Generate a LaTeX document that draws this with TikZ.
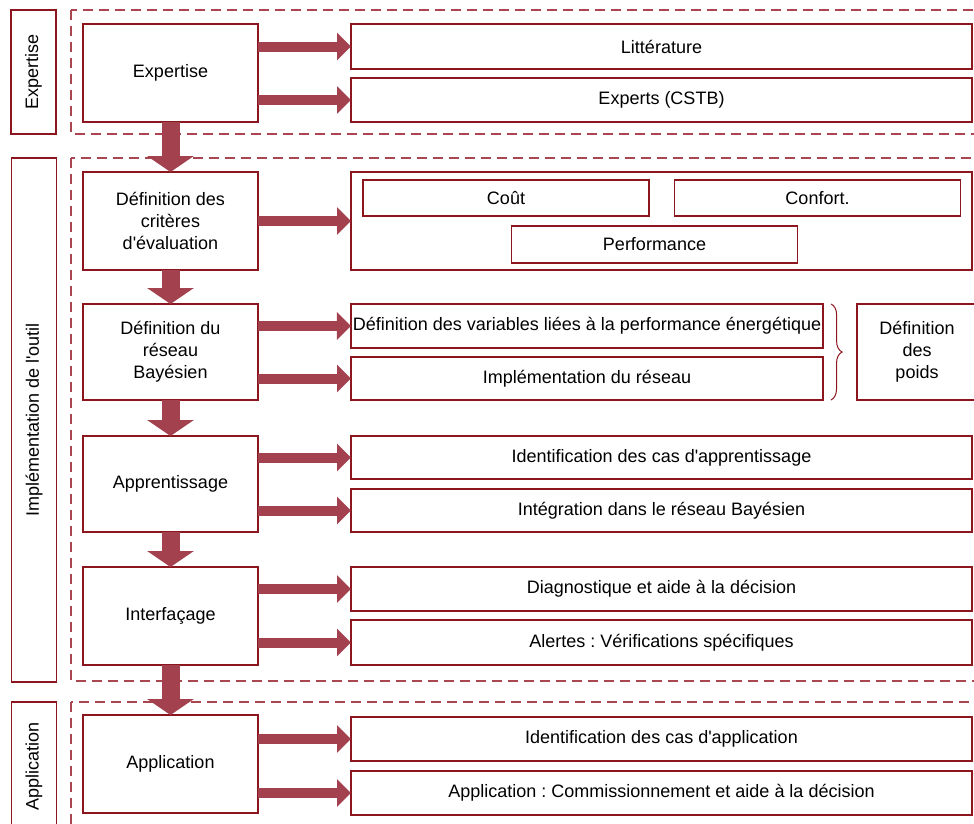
\documentclass[tikz,border=0pt]{standalone}
\usepackage{fontspec}
\setmainfont{Liberation Sans}
\usetikzlibrary{positioning,calc,arrows.meta,decorations.pathreplacing}
\definecolor{boxred}{RGB}{140,22,30}
\definecolor{arrred}{RGB}{163,66,78}
\definecolor{dashred}{RGB}{170,70,80}
\frenchspacing

\begin{document}
\begin{tikzpicture}[x=1pt,y=-1pt,
  every node/.style={font=\fontsize{18}{22}\selectfont},
  box/.style={draw=boxred,line width=1.6pt,fill=white,align=center,inner sep=2pt,outer sep=0pt},
  stagebox/.style={box,minimum width=175pt,minimum height=98pt},
  itembox/.style={box,minimum width=621pt,minimum height=44pt},
  critbox/.style={box,minimum width=286pt,minimum height=36pt},
  sidebox/.style={box,rotate=90,minimum height=45pt},
  zone/.style={draw=dashred,line width=1.5pt,dash pattern=on 10pt off 6pt},
  harrow/.style={draw=arrred,line width=10pt,-{Triangle[width=27pt,length=14pt]}},
  varrow/.style={draw=arrred,line width=18pt,-{Triangle[width=46pt,length=16pt]}}]
\path[use as bounding box,clip] (0,0) rectangle (974,823);

\draw[zone] (71,10) rectangle (990,134);
\draw[zone] (71,158) rectangle (990,681);
\draw[zone] (71,702) rectangle (990,840);

\node[sidebox,minimum width=124pt] (sexp) at (33.5,72) {Expertise};
\node[sidebox,minimum width=524pt] (simp) at (34,420) {Implémentation de l\textquotesingle outil};
\node[sidebox,minimum width=128pt] (sapp) at (34,766) {Application};

\node[stagebox] (exp) at (170.5,73) {Expertise};
\node[stagebox,below=50pt of exp] (crit) {Définition des\\critères\\d\textquotesingle évaluation};
\node[stagebox,minimum height=96pt,below=34pt of crit] (res) {Définition du\\réseau\\Bayésien};
\node[stagebox,minimum height=96pt,below=36pt of res] (appr) {Apprentissage};
\node[stagebox,below=35pt of appr] (intf) {Interfaçage};
\node[stagebox,below=50pt of intf] (appl) {Application};

\node[itembox,minimum height=45pt] (lit) at (661.5,46.5) {Littérature};
\node[itembox] (cstb) at (661.5,100) {Experts (CSTB)};
\node[itembox,minimum height=98pt] (crits) at (661.5,221) {};
\node[critbox] (cout) at (506,198) {Coût};
\node[critbox] (conf) at (817.5,198) {Confort.};
\node[critbox,minimum height=37pt] (perf) at (654.5,244.5) {Performance};
\node[box,minimum width=472pt,minimum height=44pt] (var) at (587,326) {Définition des variables liées à la performance énergétique};
\node[box,minimum width=472pt,minimum height=43pt] (impl) at (587,378.5) {Implémentation du réseau};
\node[box,minimum width=120pt,minimum height=96pt] (poids) at (917,352) {Définition\\des\\poids};
\node[itembox,minimum height=43pt] (idap) at (661.5,457.5) {Identification des cas d\textquotesingle apprentissage};
\node[itembox,minimum height=43pt] (integ) at (661.5,510.5) {Intégration dans le réseau Bayésien};
\node[itembox] (diag) at (661.5,589) {Diagnostique et aide à la décision};
\node[itembox,minimum height=45pt] (alert) at (661.5,642.5) {Alertes : Vérifications spécifiques};
\node[itembox] (idapl) at (661.5,739) {Identification des cas d\textquotesingle application};
\node[itembox] (comm) at (661.5,793) {Application : Commissionnement et aide à la décision};

\draw[boxred,line width=1pt,decorate,decoration={brace,amplitude=11pt}]
  ($(var.north east)+(8,0)$) -- ($(impl.south east)+(8,0)$);

\draw[harrow] (exp.east |- lit) -- (lit.west);
\draw[harrow] (exp.east |- cstb) -- (cstb.west);
\draw[harrow] (crit) -- (crits);
\draw[harrow] (res.east |- var) -- (var.west);
\draw[harrow] (res.east |- impl) -- (impl.west);
\draw[harrow] (appr.east |- idap) -- (idap.west);
\draw[harrow] (appr.east |- integ) -- (integ.west);
\draw[harrow] (intf.east |- diag) -- (diag.west);
\draw[harrow] (intf.east |- alert) -- (alert.west);
\draw[harrow] (appl.east |- idapl) -- (idapl.west);
\draw[harrow] (appl.east |- comm) -- (comm.west);

\draw[varrow] (exp) -- (crit);
\draw[varrow] (crit) -- (res);
\draw[varrow] (res) -- (appr);
\draw[varrow] (appr) -- (intf);
\draw[varrow] (intf) -- (appl);
\end{tikzpicture}
\end{document}
